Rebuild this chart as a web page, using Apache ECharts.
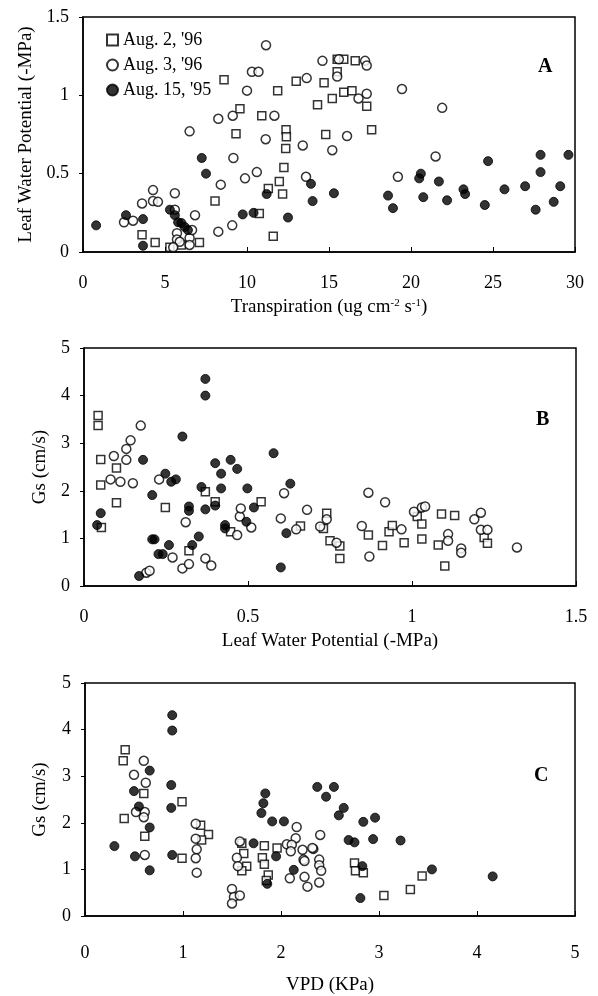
<!DOCTYPE html>
<html>
<head>
<meta charset="utf-8">
<script src="https://cdn.jsdelivr.net/npm/echarts@6/dist/echarts.min.js"></script>
<style>
  html, body { margin: 0; padding: 0; background: #fff; }
  #chart { width: 598px; height: 996px; }
</style>
</head>
<body>
<div id="chart"></div>
<script>
// panel A: transpiration (ug cm-2 s-1) vs leaf water potential (-MPa)
const aAug2 = [[3.6,0.11],[4.4,0.06],[5.3,0.03],[6.0,0.045],[7.1,0.06],[8.05,0.325],[8.6,1.10],[9.57,0.915],[9.33,0.755],[10.9,0.87],[10.75,0.246],[11.6,0.10],[11.87,1.03],[11.3,0.405],[11.97,0.45],[12.17,0.37],[12.25,0.54],[12.38,0.78],[12.4,0.735],[12.36,0.66],[13.0,1.09],[14.3,0.94],[14.7,1.08],[14.8,0.75],[15.2,0.98],[15.5,1.15],[15.5,1.23],[15.9,1.23],[15.9,1.02],[16.4,1.03],[16.6,1.22],[17.3,0.93],[17.6,0.78]]
const aAug3 = [[2.5,0.19],[3.05,0.20],[3.6,0.31],[4.27,0.395],[4.27,0.325],[4.57,0.32],[5.6,0.375],[5.6,0.27],[6.83,0.235],[5.73,0.12],[5.73,0.08],[5.9,0.065],[6.5,0.09],[6.65,0.14],[5.5,0.03],[6.5,0.045],[6.5,0.77],[8.25,0.85],[8.4,0.43],[8.25,0.13],[9.1,0.17],[9.17,0.60],[9.13,0.87],[9.88,0.47],[10.0,1.03],[10.3,1.15],[10.7,1.15],[10.6,0.51],[11.16,1.32],[11.14,0.72],[11.67,0.87],[13.4,0.68],[13.64,1.11],[13.6,0.48],[14.6,1.22],[15.5,1.12],[15.6,1.23],[15.2,0.65],[16.1,0.74],[16.8,0.98],[17.3,1.01],[17.2,1.22],[17.3,1.19],[19.2,0.48],[19.45,1.04],[21.5,0.61],[21.9,0.92]]
const aAug15 = [[0.8,0.17],[2.62,0.235],[3.66,0.21],[3.66,0.04],[5.3,0.27],[5.6,0.235],[5.8,0.19],[6.0,0.185],[6.2,0.16],[6.4,0.14],[7.24,0.60],[7.5,0.50],[9.74,0.24],[10.4,0.25],[11.2,0.37],[12.5,0.22],[13.9,0.435],[14.0,0.325],[15.3,0.375],[18.6,0.36],[18.9,0.28],[20.5,0.47],[20.6,0.50],[20.75,0.35],[21.7,0.45],[22.2,0.33],[23.2,0.40],[23.3,0.37],[24.5,0.30],[24.7,0.58],[25.7,0.40],[26.96,0.42],[27.6,0.27],[27.9,0.51],[27.9,0.62],[28.7,0.32],[29.1,0.42],[29.6,0.62]]

// panel B: leaf water potential (-MPa) vs Gs (cm/s)
const bAug2 = [[0.043,3.58],[0.043,3.37],[0.051,2.66],[0.051,2.12],[0.053,1.23],[0.099,2.48],[0.099,1.75],[0.248,1.65],[0.32,0.74],[0.37,1.98],[0.40,1.77],[0.447,1.14],[0.54,1.77],[0.66,1.26],[0.74,1.53],[0.73,1.21],[0.75,0.95],[0.78,0.84],[0.78,0.58],[0.867,1.07],[0.91,0.85],[0.93,1.14],[0.94,1.27],[0.976,0.91],[1.016,1.46],[1.03,1.30],[1.03,0.99],[1.09,1.51],[1.13,1.48],[1.08,0.86],[1.10,0.42],[1.22,1.02],[1.23,0.90]]
const bAug3 = [[0.173,3.37],[0.142,3.06],[0.129,2.88],[0.129,2.65],[0.091,2.73],[0.081,2.24],[0.111,2.19],[0.149,2.16],[0.229,2.24],[0.19,0.28],[0.2,0.32],[0.27,0.60],[0.30,0.37],[0.32,0.46],[0.31,1.34],[0.37,0.58],[0.388,0.43],[0.467,1.07],[0.475,1.46],[0.478,1.63],[0.51,1.23],[0.60,1.42],[0.61,1.95],[0.647,1.19],[0.68,1.60],[0.72,1.25],[0.74,1.40],[0.77,0.91],[0.867,1.96],[0.918,1.76],[0.847,1.26],[0.87,0.62],[0.968,1.19],[1.006,1.56],[1.03,1.65],[1.04,1.67],[1.11,1.09],[1.11,0.95],[1.15,0.79],[1.15,0.70],[1.19,1.40],[1.21,1.54],[1.21,1.18],[1.23,1.18],[1.32,0.81]]
const bAug15 = [[0.04,1.28],[0.051,1.53],[0.168,0.21],[0.18,2.65],[0.208,1.91],[0.208,0.98],[0.215,0.98],[0.227,0.67],[0.24,0.67],[0.248,2.36],[0.259,0.86],[0.266,2.19],[0.28,2.24],[0.30,3.14],[0.32,1.67],[0.32,1.58],[0.33,0.86],[0.35,1.04],[0.358,2.08],[0.37,4.35],[0.37,4.0],[0.37,1.61],[0.40,2.58],[0.40,1.69],[0.418,2.36],[0.418,2.05],[0.43,1.28],[0.43,1.21],[0.447,2.65],[0.467,2.46],[0.498,2.05],[0.495,1.35],[0.518,1.65],[0.578,2.79],[0.60,0.39],[0.617,1.11],[0.629,2.15]]

// panel C: VPD (KPa) vs Gs (cm/s)
const cAug2 = [[0.41,3.57],[0.39,3.33],[0.40,2.09],[0.60,2.63],[0.61,1.71],[0.99,2.45],[0.99,1.24],[1.18,1.95],[1.26,1.75],[1.19,1.63],[1.60,1.56],[1.62,1.34],[1.65,1.07],[1.60,0.97],[1.83,1.51],[1.81,1.25],[1.83,1.11],[1.87,0.88],[1.85,0.76],[1.96,1.46],[2.75,1.14],[2.76,0.97],[2.84,0.93],[3.05,0.44],[3.32,0.57],[3.44,0.86]]
const cAug3 = [[0.50,3.03],[0.60,3.33],[0.62,2.86],[0.52,2.23],[0.61,2.23],[0.60,2.12],[0.61,1.31],[1.13,1.98],[1.13,1.66],[1.14,1.43],[1.13,1.24],[1.14,0.93],[1.5,0.58],[1.52,0.41],[1.58,0.44],[1.50,0.27],[1.58,1.60],[1.55,1.25],[1.56,1.07],[2.16,1.91],[2.15,1.67],[2.06,1.54],[2.11,1.53],[2.10,1.39],[2.22,1.42],[2.33,1.44],[2.40,1.74],[2.23,1.21],[2.39,1.21],[2.39,1.09],[2.41,0.97],[2.24,0.84],[2.09,0.81],[2.27,0.63],[2.39,0.72],[2.32,1.46],[2.24,1.18]]
const cAug15 = [[0.30,1.50],[0.51,1.28],[0.66,0.98],[0.66,1.90],[0.66,3.12],[0.55,2.35],[0.50,2.68],[0.89,4.31],[0.89,3.98],[0.88,2.81],[0.88,2.32],[0.89,1.31],[1.72,1.56],[1.84,2.63],[1.82,2.42],[1.80,2.21],[1.91,2.03],[2.03,2.03],[2.13,0.99],[1.86,0.69],[1.95,1.28],[2.37,2.77],[2.54,2.77],[2.46,2.56],[2.64,2.32],[2.59,2.16],[2.84,2.02],[2.96,2.11],[2.69,1.63],[2.75,1.58],[2.94,1.65],[3.22,1.62],[2.83,1.07],[2.81,0.385],[3.54,1.00],[4.16,0.85]]

const seriesNames = ["Aug. 2, '96", "Aug. 3, '96", "Aug. 15, '95"]
const panelLabels = ['A', 'B', 'C']

const FONT = 'Liberation Serif'
const black = '#000'

const makeX = (gridIndex, max, interval, name, gap, labelMargin) => ({
  type: 'value', gridIndex, min: 0, max, interval,
  name, nameLocation: 'middle', nameGap: gap,
  nameTextStyle: {
    fontFamily: FONT, fontSize: 19, color: black,
    rich: { sup: { fontFamily: FONT, fontSize: 11, color: black, verticalAlign: 'top', lineHeight: 19 } },
  },
  axisLine: { show: true, lineStyle: { color: black, width: 1.5 } },
  axisTick: { show: true, inside: true, length: 5, lineStyle: { color: black } },
  axisLabel: { fontFamily: FONT, fontSize: 18, color: black, margin: labelMargin },
  splitLine: { show: false },
})

const makeY = (gridIndex, max, interval, name, gap) => ({
  type: 'value', gridIndex, min: 0, max, interval,
  name, nameLocation: 'middle', nameGap: gap,
  nameTextStyle: { fontFamily: FONT, fontSize: 19, color: black },
  axisLine: { show: true, lineStyle: { color: black, width: 1.5 } },
  axisTick: { show: true, inside: false, length: 4, lineStyle: { color: black } },
  axisLabel: { fontFamily: FONT, fontSize: 18, color: black, margin: 14 },
  splitLine: { show: false },
})

const styles = [
  { symbol: 'rect', symbolSize: 8, itemStyle: { color: '#fff', borderColor: black, borderWidth: 1.5 } },
  { symbol: 'circle', symbolSize: 9, itemStyle: { color: '#fff', borderColor: black, borderWidth: 1.5 } },
  { symbol: 'circle', symbolSize: 9, itemStyle: { color: black, borderColor: black, borderWidth: 1 } },
]

const panels = [[aAug2, aAug3, aAug15], [bAug2, bAug3, bAug15], [cAug2, cAug3, cAug15]]
const series = []
panels.forEach((sets, p) => {
  sets.forEach((data, k) => {
    series.push(Object.assign({
      name: seriesNames[k], type: 'scatter', xAxisIndex: p, yAxisIndex: p,
      data, emphasis: { disabled: true }, animation: false,
    }, styles[k]))
  })
})

const chart = echarts.init(document.getElementById('chart'), null, { renderer: 'canvas' })
chart.setOption({
  backgroundColor: '#fff',
  animation: false,
  title: [
    { text: panelLabels[0], left: 533, top: 52 },
    { text: panelLabels[1], left: 531, top: 405 },
    { text: panelLabels[2], left: 529, top: 761 },
  ].map(t => Object.assign(t, { textStyle: { fontFamily: FONT, fontSize: 20, fontWeight: 'bold', color: black } })),
  legend: {
    data: seriesNames,
    orient: 'vertical', left: 101, top: 26,
    itemWidth: 11, itemHeight: 11, itemGap: 7,
    textStyle: { fontFamily: FONT, fontSize: 18, color: black },
  },
  grid: [
    { left: 83, top: 17, width: 492, height: 235, show: true, borderColor: black, borderWidth: 1.5 },
    { left: 84, top: 348, width: 492, height: 238, show: true, borderColor: black, borderWidth: 1.5 },
    { left: 85, top: 683, width: 490, height: 238, show: true, borderColor: black, borderWidth: 1.5 },
  ],
  xAxis: [
    makeX(0, 30, 5, 'Transpiration (ug cm{sup|-2} s{sup|-1})', 46, 22),
    makeX(1, 1.5, 0.5, 'Leaf Water Potential (-MPa)', 46, 22),
    makeX(2, 5, 1, 'VPD (KPa)', 60, 28),
  ],
  yAxis: [
    makeY(0, 1.5, 0.5, 'Leaf Water Potential (-MPa)', 44),
    makeY(1, 5, 1, 'Gs (cm/s)', 34),
    makeY(2, 5, 1, 'Gs (cm/s)', 35),
  ],
  series,
})
</script>
</body>
</html>
